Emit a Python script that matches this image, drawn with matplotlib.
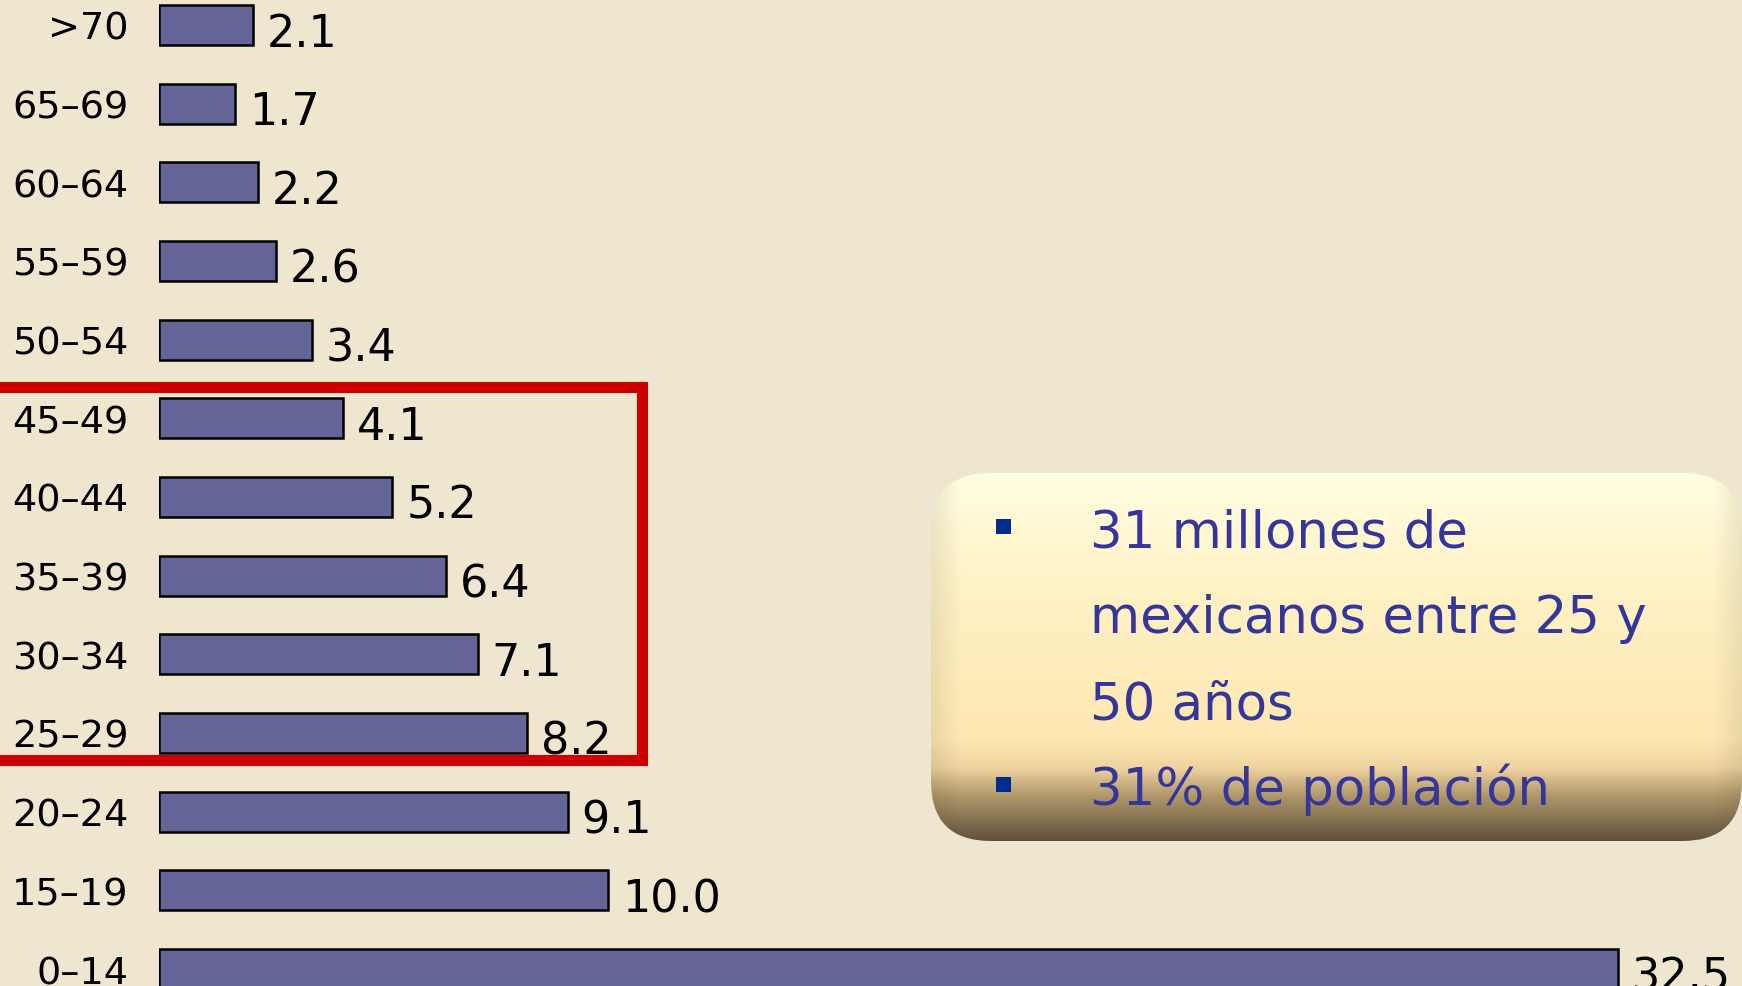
import numpy as np
import matplotlib
matplotlib.use('Agg')
import matplotlib.pyplot as plt
from matplotlib.patches import Rectangle, FancyBboxPatch

# population share by age group (percent), youngest first
age_groups = ['0–14', '15–19', '20–24', '25–29', '30–34', '35–39', '40–44',
              '45–49', '50–54', '55–59', '60–64', '65–69', '>70']
population = [32.5, 10.0, 9.1, 8.2, 7.1, 6.4, 5.2, 4.1, 3.4, 2.6, 2.2, 1.7, 2.1]

# groups framed in red (25 to 49)
highlight = ('25–29', '45–49')

callout_lines = ['31 millones de', 'mexicanos entre 25 y', '50 años', '31% de población']
callout_bullets = [True, False, False, True]

bg = '#efe6d0'
bar_color = '#646496'
text_blue = '#35359a'

W, H = 1742, 987
fig = plt.figure(figsize=(W / 100, H / 100), dpi=100, facecolor=bg)

ax = fig.add_axes([159 / W, 0, 1 - 159 / W, 1])
ax.set_facecolor(bg)
y = np.arange(len(age_groups))
bars = ax.barh(y, population, height=0.51, color=bar_color,
               edgecolor='black', linewidth=1.8)
ax.set_xlim(0, 35.26)
ax.set_ylim(-0.216, 12.33)
ax.set_yticks(y)
ax.set_yticklabels(age_groups, fontsize=27.5)
ax.tick_params(axis='y', length=0, pad=22)
ax.set_xticks([])
for s in ax.spines.values():
    s.set_visible(False)

for yi, v in zip(y, population):
    ax.annotate(f'{v:.1f}', (v, yi), xytext=(10, -15), textcoords='offset points',
                ha='left', va='baseline', fontsize=32, color='black')

# red frame around the 25-49 block
i0 = age_groups.index(highlight[0])
i1 = age_groups.index(highlight[1])
ax.add_patch(Rectangle((-5, i0 - 0.34), 10.76 + 5, (i1 - i0) + 0.34 + 0.40,
                       fill=False, edgecolor='#cc0000', linewidth=8,
                       joinstyle='miter', clip_on=False, zorder=5))

# callout box drawn in pixel space
ov = fig.add_axes([0, 0, 1, 1], zorder=10)
ov.set_xlim(0, W)
ov.set_ylim(H, 0)
ov.axis('off')
ov.patch.set_alpha(0)

bx0, by0, bx1, by1 = 931, 474, 1742, 842
t = np.linspace(0, 1, by1 - by0)[:, None]
stops = [(0.0, (255, 254, 226)), (0.3, (255, 242, 198)), (0.72, (254, 232, 178)),
         (0.8, (240, 212, 160)), (0.88, (175, 150, 105)), (1.0, (96, 82, 58))]
pos = [s[0] for s in stops]
grad = np.stack([np.interp(t[:, 0], pos, [s[1][c] for s in stops]) for c in range(3)], axis=-1)
grad = np.repeat(grad[:, None, :], bx1 - bx0, axis=1) / 255.0
xs = np.arange(bx1 - bx0)
edge = 1 - 0.08 * np.clip(1 - xs / 30, 0, 1) - 0.08 * np.clip(1 - (bx1 - bx0 - xs) / 30, 0, 1)
grad = grad * edge[None, :, None]

box = FancyBboxPatch((bx0, by0), bx1 - bx0, by1 - by0,
                     boxstyle='round,pad=0,rounding_size=60',
                     facecolor='none', edgecolor='none')
ov.add_patch(box)
im = ov.imshow(grad, extent=(bx0, bx1, by1, by0), aspect='auto', zorder=1)
im.set_clip_path(box)
ov.set_xlim(0, W)
ov.set_ylim(H, 0)

baselines = [547, 633, 720, 805]
for line, bullet, yb in zip(callout_lines, callout_bullets, baselines):
    ov.text(1090, yb, line, fontsize=37, color=text_blue, ha='left',
            va='baseline', zorder=3)
    if bullet:
        ov.add_patch(Rectangle((996, yb - 27), 15, 15, facecolor='#002d8c',
                               edgecolor='none', zorder=3))

fig.savefig('out.png', dpi=100, facecolor=bg)
